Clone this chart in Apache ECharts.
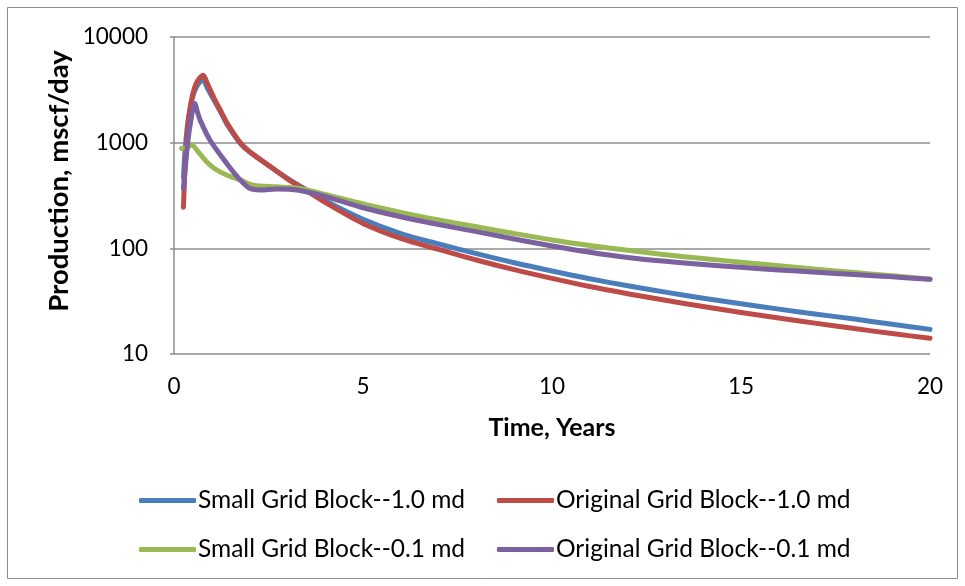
<!DOCTYPE html>
<html>
<head>
<meta charset="utf-8">
<script src="https://cdn.jsdelivr.net/npm/echarts@6/dist/echarts.min.js"></script>
<style>
  html, body { margin: 0; padding: 0; background: #fff; }
  #chart { width: 965px; height: 586px; }
</style>
</head>
<body>
<div id="chart"></div>
<script>
// Gas production rate vs time for two grid-block sizes and two permeabilities
const seriesNames = [
  'Small Grid Block--1.0 md',
  'Original Grid Block--1.0 md',
  'Small Grid Block--0.1 md',
  'Original Grid Block--0.1 md'
];

const timeSmall10 = [0.25,0.3,0.37,0.48,0.6,0.76,0.9,1.08,1.25,1.4,1.75,2.0,2.5,3.0,3.5,4,5,6,7,8,9,10,11,12,13,14,15,16,17,18,19,20];
const prodSmall10 = [470,900,1600,2600,3400,3920,3200,2450,1900,1500,990,820,610,460,358,282,188,138,110,89,73,61,51.5,44.2,38.5,33.7,29.9,26.6,23.8,21.4,19.1,17.1];

const timeOrig10 = [0.25,0.3,0.37,0.48,0.6,0.77,0.9,1.08,1.25,1.4,1.75,2.0,2.5,3.0,3.5,4,5,6,7,8,9,10,11,12,13,14,15,16,17,18,19,20];
const prodOrig10 = [245,650,1420,2700,3700,4350,3500,2550,1950,1540,1000,820,610,455,352,272,172,124,97.7,77.6,62.8,51.9,43.5,37.2,32.2,28.2,24.7,21.9,19.5,17.4,15.6,14.1];

const timeSmall01 = [0.2,0.33,0.47,0.6,0.86,1.1,1.39,1.75,2.1,2.7,3.3,4,5,6,7,8,9,10,11,12,13,14,15,16,17,18,19,20];
const prodSmall01 = [880,900,950,853,661,560,495,444,395,382,370,324,263,219,186,160,138,120,106.4,95.7,87.1,80,74,68.5,63.5,59,55,51];

const timeOrig01 = [0.25,0.35,0.42,0.55,0.62,0.69,0.95,1.39,1.75,2.0,2.28,2.72,3.3,4,5,6,7,8,9,10,11,12,13,14,15,16,17,18,19,20];
const prodOrig01 = [370,900,1420,2350,1950,1640,1060,640,444,370,357,365,355,310,242,199,168,144,122.5,105.2,91.8,81.8,75.3,70.3,66.1,62.5,59.4,56.5,53.7,51];

const colors = ['#4A7EBB', '#BE4B48', '#98B954', '#7D60A0'];
const xTicks = [0, 5, 10, 15, 20];

const pairs = (t, v) => t.map((x, i) => [x, v[i]]);
const seriesData = [
  pairs(timeSmall10, prodSmall10),
  pairs(timeOrig10, prodOrig10),
  pairs(timeSmall01, prodSmall01),
  pairs(timeOrig01, prodOrig01)
];

const font = 'Lato, "Liberation Sans", sans-serif';
const gridColor = '#8c8c8c';

const chart = echarts.init(document.getElementById('chart'), null, { renderer: 'canvas' });

// two rows, two columns of legend entries
const legendPos = [
  { left: 139, top: 488 },
  { left: 497, top: 488 },
  { left: 139, top: 537 },
  { left: 497, top: 537 }
];

chart.setOption({
  animation: false,
  backgroundColor: '#fff',
  color: colors,
  grid: { left: 174, right: 35, top: 37, bottom: 232, containLabel: false },
  legend: seriesNames.map((name, i) => ({
    data: [name],
    left: legendPos[i].left,
    top: legendPos[i].top,
    icon: 'roundRect',
    itemWidth: 57,
    itemHeight: 5,
    itemGap: 0,
    padding: 0,
    textStyle: { fontFamily: font, fontSize: 24.5, color: '#000', padding: [0, 0, 0, -3] }
  })),
  xAxis: {
    type: 'value',
    min: 0,
    max: 20,
    interval: 5,
    name: 'Time, Years',
    nameLocation: 'middle',
    nameGap: 61,
    nameTextStyle: { fontFamily: font, fontSize: 25, fontWeight: 'bold', color: '#000' },
    axisLine: { show: false },
    axisTick: { show: false },
    splitLine: { show: false },
    axisLabel: {
      margin: 21,
      fontFamily: font,
      fontSize: 22.5,
      color: '#000',
      customValues: xTicks
    }
  },
  yAxis: {
    type: 'log',
    logBase: 10,
    min: 10,
    max: 10000,
    axisLine: { show: true, lineStyle: { color: gridColor, width: 1.5 } },
    axisTick: { show: true, length: 4, lineStyle: { color: gridColor, width: 1.5 } },
    splitLine: { show: true, lineStyle: { color: gridColor, width: 1.5 } },
    axisLabel: {
      margin: 26,
      fontFamily: font,
      fontSize: 22.5,
      color: '#000',
      formatter: (v) => String(Math.round(v))
    }
  },
  graphic: [
    {
      type: 'rect',
      shape: { x: 7.5, y: 7.5, width: 950, height: 571 },
      style: { fill: 'none', stroke: '#8c8c8c', lineWidth: 1 },
      silent: true,
      z: -1
    },
    {
      type: 'text',
      x: 59,
      y: 181,
      rotation: Math.PI / 2,
      style: {
        text: 'Production, mscf/day',
        fontFamily: font,
        fontSize: 27.5,
        fontWeight: 'bold',
        fill: '#000',
        textAlign: 'center',
        textVerticalAlign: 'middle'
      }
    }
  ],
  series: seriesNames.map((name, i) => ({
    name,
    type: 'line',
    data: seriesData[i],
    showSymbol: false,
    smooth: 0.3,
    lineStyle: { width: 5, color: colors[i], cap: 'round', join: 'round' },
    itemStyle: { color: colors[i] },
    z: 2 + i
  }))
});
</script>
</body>
</html>
